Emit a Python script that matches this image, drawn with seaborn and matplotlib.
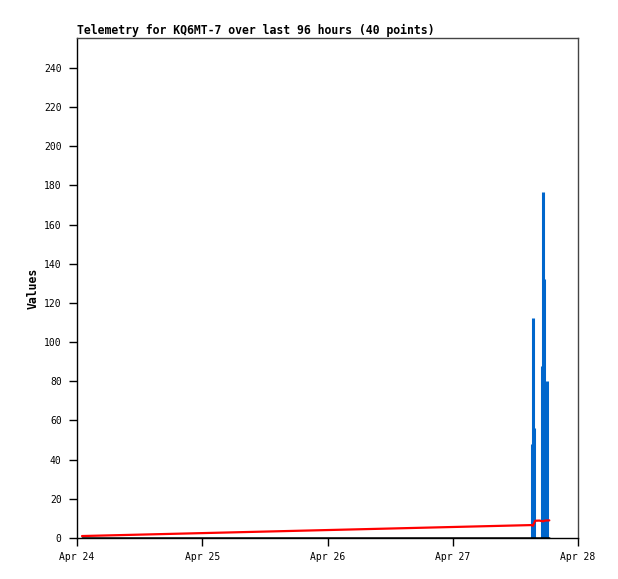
import matplotlib
matplotlib.use("Agg")
import matplotlib.dates as mdates
import matplotlib.pyplot as plt
import pandas as pd
import seaborn as sns

START = pd.Timestamp("2024-04-24 00:00")

# red series (hours after Apr 24 00:00, value)
red_hours = [0.96, 87.1, 87.35, 87.8, 88.6, 89.3, 89.7, 90.5]
red_values = [1.0, 6.6, 6.2, 8.8, 8.9, 8.5, 8.9, 9.0]

# blue spikes
blue_hours = [87.18, 87.38, 87.60, 89.04, 89.25, 89.44, 89.64, 90.00]
blue_values = [48, 112.5, 56, 88, 176.5, 132, 44, 80]

# black baseline series
black_hours = [0.96, 90.5]
black_values = [0, 0]

x_ticks = ["2024-04-24", "2024-04-25", "2024-04-26", "2024-04-27", "2024-04-28"]
y_ticks = list(range(0, 241, 20))


def to_time(hours: list[float]) -> pd.Series:
    return START + pd.to_timedelta(pd.Series(hours), unit="h")


def main() -> None:
    sns.set_theme(style="white")
    plt.rcParams["font.family"] = ["DejaVu Sans Mono"]
    plt.rcParams["text.color"] = "black"
    plt.rcParams["axes.labelcolor"] = "black"

    fig = plt.figure(figsize=(6.18, 5.79), dpi=100)
    ax = fig.add_axes([77 / 618, 1 - 538 / 579, 501 / 618, 500 / 579])

    blue = pd.DataFrame({"time": to_time(blue_hours), "value": blue_values})
    red = pd.DataFrame({"time": to_time(red_hours), "value": red_values})
    black = pd.DataFrame({"time": to_time(black_hours), "value": black_values})

    ax.vlines(blue["time"], 0, blue["value"], color="#0066cc", linewidth=2.2, zorder=2)
    sns.lineplot(data=red, x="time", y="value", color="#ff0000", linewidth=1.6, ax=ax, zorder=3)
    sns.lineplot(data=black, x="time", y="value", color="black", linewidth=1.8, ax=ax, zorder=4)

    ax.set_xlim(pd.Timestamp(x_ticks[0]), pd.Timestamp(x_ticks[-1]))
    ax.set_ylim(0, 255.3)
    ax.set_xticks([pd.Timestamp(t) for t in x_ticks])
    ax.xaxis.set_major_formatter(mdates.DateFormatter("%b %d"))
    ax.set_yticks(y_ticks)

    ax.tick_params(axis="both", direction="out", length=6, width=1, color="black",
                   labelsize=7, labelcolor="black")
    ax.tick_params(axis="y", pad=5)
    ax.tick_params(axis="x", pad=4)
    ax.tick_params(left=True, bottom=True)

    for side in ("left", "bottom"):
        ax.spines[side].set_color("black")
        ax.spines[side].set_linewidth(1)
    for side in ("top", "right"):
        ax.spines[side].set_color("#444444")
        ax.spines[side].set_linewidth(1)

    ax.set_xlabel("")
    ax.set_ylabel("Values", fontsize=8.3, fontweight="bold", color="black", labelpad=3)
    ax.set_title("Telemetry for KQ6MT-7 over last 96 hours (40 points)", loc="left",
                 fontsize=8.3, fontweight="bold", color="black", pad=3)

    fig.savefig("out.png", dpi=100, facecolor="white")
    plt.close(fig)


if __name__ == "__main__":
    main()
